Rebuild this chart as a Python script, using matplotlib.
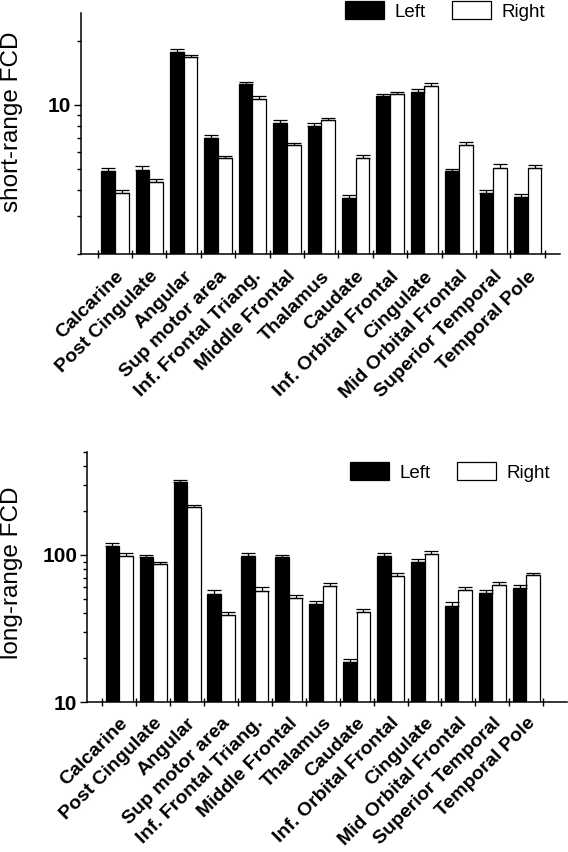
import numpy as np
import matplotlib
matplotlib.use("Agg")
import matplotlib.pyplot as plt
from matplotlib.ticker import LogLocator, NullFormatter, FixedLocator

plt.rcParams['font.family'] = ['Liberation Sans', 'DejaVu Sans']

# datos
regiones = ['Calcarine', 'Post Cingulate', 'Angular', 'Sup motor area',
            'Inf. Frontal Triang.', 'Middle Frontal', 'Thalamus', 'Caudate',
            'Inf. Orbital Frontal', 'Cingulate', 'Mid Orbital Frontal',
            'Superior Temporal', 'Temporal Pole']

corto_izq = [4.9, 4.96, 17.8, 7.0, 12.5, 8.25, 8.0, 3.66, 11.0, 11.5, 4.88, 3.87, 3.69]
corto_der = [3.87, 4.35, 16.7, 5.64, 10.7, 6.48, 8.46, 5.64, 11.2, 12.3, 6.5, 5.09, 5.06]
corto_err_izq = [0.17, 0.2, 0.6, 0.22, 0.35, 0.22, 0.2, 0.12, 0.3, 0.35, 0.15, 0.13, 0.13]
corto_err_der = [0.13, 0.15, 0.5, 0.15, 0.3, 0.17, 0.25, 0.2, 0.28, 0.35, 0.22, 0.17, 0.17]

largo_izq = [115, 96, 312, 54.6, 98.4, 96, 46.4, 18.6, 98.4, 89.6, 45, 54.8, 59.3]
largo_der = [98.4, 86, 211, 39.3, 57, 50.7, 61, 41, 72.3, 101.6, 57.8, 62.5, 72.7]
largo_err_izq = [6, 4, 12, 3, 4, 4, 2.5, 1, 4, 4, 2.5, 2.5, 3]
largo_err_der = [4, 3.5, 8, 1.8, 3, 2.5, 3, 2, 3, 4, 3, 3, 3]


def dibujar(ax, izq, der, err_izq, err_der, ylim, ylabel, xlim, pad_lab, label_coords):
    x = np.arange(len(regiones))
    ancho = 0.4
    b1 = ax.bar(x - ancho / 2, izq, ancho, color='black', edgecolor='black', linewidth=0.9,
                yerr=[np.zeros(len(izq)), err_izq], capsize=5,
                error_kw=dict(ecolor='black', elinewidth=0.9, capthick=0.9), label='Left')
    b2 = ax.bar(x + ancho / 2, der, ancho, color='white', edgecolor='black', linewidth=0.9,
                yerr=[np.zeros(len(der)), err_der], capsize=5,
                error_kw=dict(ecolor='black', elinewidth=0.9, capthick=0.9), label='Right')
    ax.set_yscale('log')
    ax.set_ylim(*ylim)
    ax.set_xlim(*xlim)

    # ticks de categorias: marcas en los limites, texto en el centro
    ax.xaxis.set_major_locator(FixedLocator(np.arange(len(regiones) + 1) - 0.5))
    ax.xaxis.set_major_formatter(NullFormatter())
    ax.set_xticks(x, regiones, minor=True)
    ax.tick_params(axis='x', which='major', direction='inout', length=6, width=1)
    ax.tick_params(axis='x', which='minor', length=0, pad=pad_lab)
    for t in ax.get_xticklabels(minor=True):
        t.set_rotation(45)
        t.set_ha('right')
        t.set_va('top')
        t.set_rotation_mode('anchor')
        t.set_fontsize(14)
        t.set_fontweight('bold')

    ax.yaxis.set_minor_locator(LogLocator(base=10, subs=np.arange(2, 10)))
    ax.yaxis.set_minor_formatter(NullFormatter())
    ax.tick_params(axis='y', which='major', length=5, width=1, pad=2, labelsize=15)
    ax.tick_params(axis='y', which='minor', length=3, width=1)
    for t in ax.get_yticklabels():
        t.set_fontweight('bold')
    ax.yaxis.set_major_formatter(plt.FuncFormatter(lambda v, p: '%d' % v))

    ax.set_ylabel(ylabel, fontsize=17.5)
    ax.yaxis.set_label_coords(*label_coords)

    for lado in ['top', 'right']:
        ax.spines[lado].set_visible(False)
    for lado in ['left', 'bottom']:
        ax.spines[lado].set_linewidth(1.1)
    return b1, b2


fig = plt.figure(figsize=(5.68, 8.52), dpi=100)

# grafico de arriba: short-range
ax1 = fig.add_axes([81 / 568, 1 - 254 / 852, (560 - 81) / 568, (254 - 13) / 852])
h1 = dibujar(ax1, corto_izq, corto_der, corto_err_izq, corto_err_der, (2, 27),
             'short-range FCD', (-0.985, 12.94), 10, (-0.121, 0.548))
fig.legend(h1, ['Left', 'Right'], loc='center', bbox_to_anchor=(445 / 568, 1 - 11 / 852),
           ncol=2, frameon=False, fontsize=13.5, handlelength=2.1, handleheight=1.1,
           handletextpad=0.55, columnspacing=1.4)

# grafico de abajo: long-range
ax2 = fig.add_axes([87 / 568, 1 - 702 / 852, (567 - 87) / 568, (702 - 452) / 852])
h2 = dibujar(ax2, largo_izq, largo_der, largo_err_izq, largo_err_der, (10, 500),
             'long-range FCD', (-0.95, 13.2), 9, (-0.133, 0.516))
fig.legend(h2, ['Left', 'Right'], loc='center', bbox_to_anchor=(450 / 568, 1 - 472 / 852),
           ncol=2, frameon=False, fontsize=13.5, handlelength=2.1, handleheight=1.1,
           handletextpad=0.55, columnspacing=1.4)

fig.savefig('out.png', dpi=100)
